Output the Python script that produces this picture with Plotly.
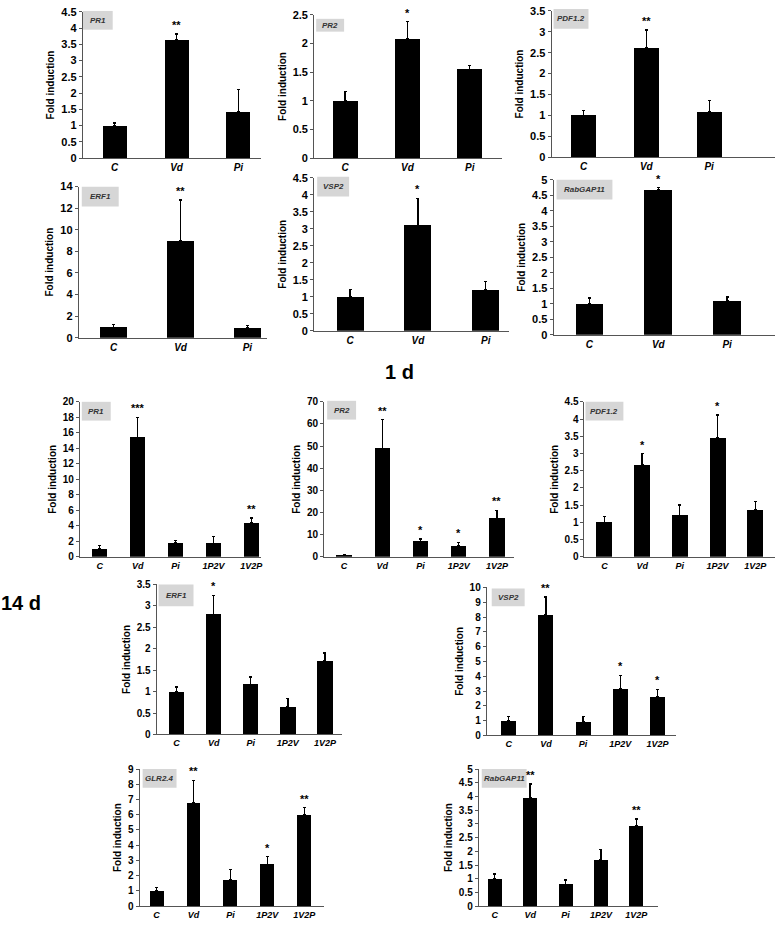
import plotly.graph_objects as go

W, H = 777, 929

cats3 = ["C", "Vd", "Pi"]
cats5 = ["C", "Vd", "Pi", "1P2V", "1V2P"]

# ---- 1 d data ----
pr1_1d = [1.0, 3.65, 1.43]
pr1_1d_err = [0.08, 0.17, 0.67]
pr1_1d_sig = ["", "**", ""]

pr2_1d = [1.0, 2.08, 1.55]
pr2_1d_err = [0.16, 0.30, 0.06]
pr2_1d_sig = ["", "*", ""]

pdf_1d = [1.0, 2.62, 1.08]
pdf_1d_err = [0.12, 0.42, 0.28]
pdf_1d_sig = ["", "**", ""]

erf1_1d = [0.95, 9.0, 0.9]
erf1_1d_err = [0.3, 3.75, 0.2]
erf1_1d_sig = ["", "**", ""]

vsp2_1d = [1.0, 3.1, 1.2]
vsp2_1d_err = [0.22, 0.8, 0.25]
vsp2_1d_sig = ["", "*", ""]

rab_1d = [1.0, 4.67, 1.1]
rab_1d_err = [0.18, 0.07, 0.12]
rab_1d_sig = ["", "*", ""]

# ---- 14 d data ----
pr1_14d = [1.0, 15.4, 1.8, 1.75, 4.4]
pr1_14d_err = [0.45, 2.6, 0.3, 0.85, 0.6]
pr1_14d_sig = ["", "***", "", "", "**"]

pr2_14d = [0.7, 49.0, 7.0, 5.0, 17.3]
pr2_14d_err = [0.3, 13.0, 1.0, 1.5, 3.7]
pr2_14d_sig = ["", "**", "*", "*", "**"]

pdf_14d = [1.0, 2.68, 1.2, 3.45, 1.37]
pdf_14d_err = [0.16, 0.31, 0.3, 0.67, 0.23]
pdf_14d_sig = ["", "*", "", "*", ""]

erf1_14d = [1.0, 2.8, 1.17, 0.65, 1.72]
erf1_14d_err = [0.11, 0.45, 0.17, 0.19, 0.18]
erf1_14d_sig = ["", "*", "", "", ""]

vsp2_14d = [1.0, 8.15, 0.9, 3.15, 2.62]
vsp2_14d_err = [0.3, 1.2, 0.4, 0.9, 0.5]
vsp2_14d_sig = ["", "**", "", "*", "*"]

glr_14d = [1.0, 6.8, 1.72, 2.75, 6.0]
glr_14d_err = [0.25, 1.45, 0.7, 0.5, 0.47]
glr_14d_sig = ["", "**", "", "*", "**"]

rab_14d = [1.0, 3.95, 0.8, 1.7, 2.93]
rab_14d_err = [0.17, 0.5, 0.16, 0.37, 0.25]
rab_14d_sig = ["", "**", "", "", "**"]

# panel: name, cats, vals, errs, sig, ymax, dtick, geometry(left,right,top,bottom,c0,spacing,barpx), label box(x0,x1,y0,y1)
panels = [
    ("PR1", cats3, pr1_1d, pr1_1d_err, pr1_1d_sig, 4.5, 0.5, (83, 262, 6, 154, 115, 62, 24), (83, 113, 5, 24)),
    ("PR2", cats3, pr2_1d, pr2_1d_err, pr2_1d_sig, 2.5, 0.5, (315, 503, 9, 154, 346, 62.5, 25), (317, 345, 13, 26)),
    ("PDF1.2", cats3, pdf_1d, pdf_1d_err, pdf_1d_sig, 3.5, 0.5, (553, 777, 5, 153, 585, 63, 25), (555, 590, 3, 23)),
    ("ERF1", cats3, erf1_1d, erf1_1d_err, erf1_1d_sig, 14, 2, (79, 268, 183, 336, 114, 67, 27), (82, 119, 183, 203)),
    ("VSP2", cats3, vsp2_1d, vsp2_1d_err, vsp2_1d_sig, 4.5, 0.5, (315, 510, 174, 329, 351, 68, 27), (318, 350, 173, 193)),
    ("RabGAP11", cats3, rab_1d, rab_1d_err, rab_1d_sig, 5, 0.5, (555, 777, 176, 333, 591, 69, 28), (558, 614, 176, 196)),
    ("PR1", cats5, pr1_14d, pr1_14d_err, pr1_14d_sig, 20, 2, (80, 262, 401, 558, 100, 38, 15), (82, 111, 401, 420)),
    ("PR2", cats5, pr2_14d, pr2_14d_err, pr2_14d_sig, 70, 10, (325, 515, 401, 558, 345, 38.3, 15.5), (328, 357, 400, 419)),
    ("PDF1.2", cats5, pdf_14d, pdf_14d_err, pdf_14d_sig, 4.5, 0.5, (586, 777, 401, 558, 606, 37.8, 16), (587, 625, 401, 420)),
    ("ERF1", cats5, erf1_14d, erf1_14d_err, erf1_14d_sig, 3.5, 0.5, (157, 343, 586, 738, 177, 37.2, 15.5), (159, 194, 586, 608)),
    ("VSP2", cats5, vsp2_14d, vsp2_14d_err, vsp2_14d_sig, 10, 1, (488, 678, 589, 739, 510, 37.3, 15), (493, 526, 590, 608)),
    ("GLR2.4", cats5, glr_14d, glr_14d_err, glr_14d_sig, 9, 1, (140, 325, 773, 912, 157, 37, 14), (143, 177, 773, 792)),
    ("RabGAP11", cats5, rab_14d, rab_14d_err, rab_14d_sig, 5, 0.5, (480, 660, 773, 912, 496, 35.5, 14), (483, 528, 773, 792)),
]

FONT = "Liberation Sans"
fig = go.Figure()
layout = dict(width=W, height=H, margin=dict(l=0, r=0, t=0, b=0),
              paper_bgcolor="white", plot_bgcolor="white", showlegend=False,
              annotations=[], shapes=[], bargap=0)


def px(x):
    return x / W


def py(y):
    return 1 - y / H


for i, (name, cats, vals, errs, sig, ymax, dtick, geo, box) in enumerate(panels):
    left, right, top, bottom, c0, sp, bpx = geo
    k = "" if i == 0 else str(i + 1)
    n = len(cats)
    small = n == 5
    r0 = -(c0 - left) / sp
    r1 = (n - 1) + (right - (c0 + sp * (n - 1))) / sp
    fig.add_trace(go.Bar(
        x=cats, y=vals, width=[bpx / sp] * n, marker=dict(color="black", line=dict(width=0)),
        error_y=dict(type="data", array=errs, arrayminus=[0] * n, symmetric=False,
                     color="black", thickness=1.3, width=1.5),
        xaxis="x" + k, yaxis="y" + k))
    ticks = []
    t = 0.0
    while t <= ymax + 1e-9:
        ticks.append(round(t, 3))
        t += dtick
    layout["xaxis" + k] = dict(domain=[px(left), px(right)], anchor="y" + k,
                              range=[r0, r1], showline=True, linecolor="#555", linewidth=1,
                              ticks="", showgrid=False, zeroline=False, fixedrange=True,
                              tickfont=dict(family=FONT, size=9 if small else 10, weight="bold",
                                            style="italic", color="black"),
                              ticklabelstandoff=0)
    layout["yaxis" + k] = dict(domain=[py(bottom), py(top)], anchor="x" + k,
                              range=[0, ymax], tickvals=ticks,
                              showline=True, linecolor="#555", linewidth=1,
                              ticks="outside", ticklen=3, tickcolor="#555",
                              showgrid=False, zeroline=False, fixedrange=True,
                              tickfont=dict(family=FONT, size=10 if small else 11, weight="bold", color="black"),
                              title=dict(text="Fold induction", standoff=4,
                                         font=dict(family=FONT, size=10, weight="bold", color="black")))
    # gene label box
    bx0, bx1, by0, by1 = box
    layout["shapes"].append(dict(type="rect", xref="paper", yref="paper",
                                 x0=px(bx0), x1=px(bx1), y0=py(by1), y1=py(by0),
                                 fillcolor="#d6d6d6", line=dict(width=0), layer="below"))
    layout["annotations"].append(dict(text=name, xref="paper", yref="paper",
                                      x=px((bx0 + bx1) / 2), y=py((by0 + by1) / 2),
                                      xanchor="center", yanchor="middle", showarrow=False,
                                      font=dict(family=FONT, size=8, weight="bold", style="italic", color="#333")))
    # significance stars
    for c, v, e, s in zip(cats, vals, errs, sig):
        if s:
            layout["annotations"].append(dict(text=s, x=c, y=v + e, xref="x" + k, yref="y" + k,
                                              yanchor="bottom", yshift=1, showarrow=False,
                                              font=dict(family=FONT, size=11, weight="bold", color="black")))

layout["annotations"].append(dict(text="1 d", xref="paper", yref="paper", x=px(401), y=py(371),
                                  xanchor="center", yanchor="middle", showarrow=False,
                                  font=dict(family=FONT, size=20, weight="bold", color="black")))
layout["annotations"].append(dict(text="14 d", xref="paper", yref="paper", x=px(21), y=py(605),
                                  xanchor="center", yanchor="middle", showarrow=False,
                                  font=dict(family=FONT, size=20, weight="bold", color="black")))

fig.update_layout(**layout)
fig.write_html("out.html", config={"displayModeBar": False, "staticPlot": True},
               post_script="document.body.style.margin='0';document.body.style.overflow='hidden';")
